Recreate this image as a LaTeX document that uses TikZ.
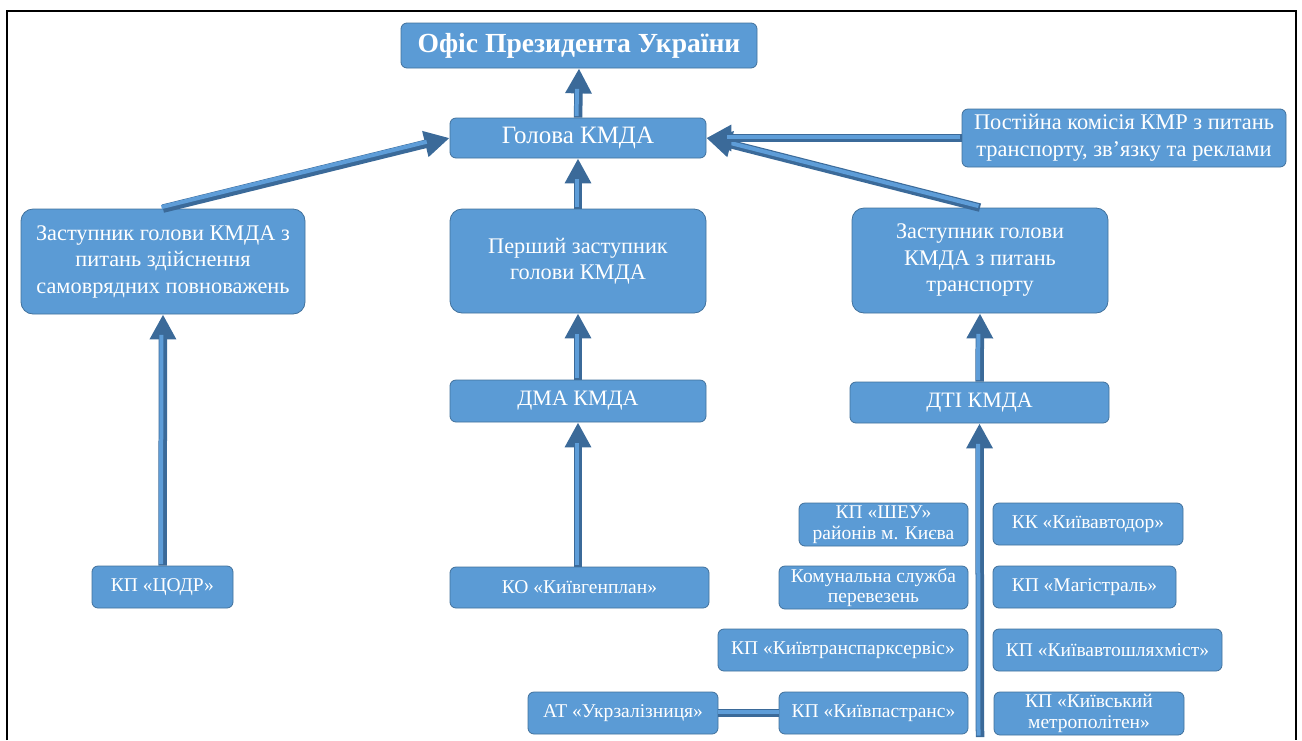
\documentclass[tikz,border=0pt]{standalone}
\usepackage{fontspec}
\setmainfont{Liberation Serif}
\usetikzlibrary{arrows.meta}
\definecolor{boxfill}{HTML}{5B9BD5}
\definecolor{boxline}{HTML}{41719C}
\definecolor{arrdark}{HTML}{3B6A99}
\definecolor{arrlight}{HTML}{5E9DD8}
\tikzset{
  box/.style={draw=boxline, line width=0.8pt, fill=boxfill, rounded corners=6pt,
    text=white, align=center, inner sep=0pt, font=\fontsize{22.3}{26.5}\selectfont},
  bigbox/.style={box, rounded corners=12pt},
  smallbox/.style={box, font=\fontsize{19.5}{20.5}\selectfont},
  arr/.style={draw=arrdark, line width=8.5pt,
    -{Triangle[width=25pt,length=25pt,fill=arrdark]},
    postaction={draw=arrlight, line width=4pt, shorten >=22pt, -,
      transform canvas={xshift=-1.5pt, yshift=1.5pt}}},
  conn/.style={draw=arrdark, line width=8pt,
    postaction={draw=arrlight, line width=4pt, transform canvas={yshift=1.5pt}}},
  frameline/.style={draw=black, line width=2.5pt}
}
\begin{document}
\begin{tikzpicture}[x=1pt,y=-1pt]
\useasboundingbox (0,0) rectangle (1302,740);
\draw[frameline] (7,740) -- (7,11) -- (1296,11) -- (1296,740);

\node[box, rounded corners=6pt, minimum width=356pt, minimum height=45pt,
  font=\fontsize{27.6}{32}\selectfont\bfseries] (ofis) at (579,45.5) {Офіс Президента України};
\node[box, minimum width=256pt, minimum height=40pt, font=\fontsize{25}{29}\selectfont] (golova) at (578,138) {Голова КМДА};
\node[box, minimum width=324pt, minimum height=58pt, font=\fontsize{22.4}{27}\selectfont] (komisia) at (1124,138) {Постійна комісія КМР з питань\\транспорту, зв’язку та реклами};

\node[bigbox, minimum width=284pt, minimum height=105pt] (zlg) at (163,261.5) {Заступник голови КМДА з\\питань здійснення\\самоврядних повноважень};
\node[bigbox, minimum width=256pt, minimum height=104pt] (pershyi) at (578,261) {Перший заступник\\голови КМДА};
\node[bigbox, minimum width=256pt, minimum height=105pt] (ztr) at (980,260.5) {Заступник голови\\КМДА з питань\\транспорту};

\node[box, minimum width=256pt, minimum height=42pt, font=\fontsize{22}{26}\selectfont] (dma) at (578,401) {ДМА КМДА};
\node[box, minimum width=259pt, minimum height=41pt, font=\fontsize{22}{26}\selectfont] (dti) at (979.5,402.5) {ДТІ КМДА};

\node[smallbox, minimum width=259pt, minimum height=41pt] (genplan) at (579.5,587.5) {КО «Київгенплан»};
\node[smallbox, minimum width=141pt, minimum height=42pt] (codr) at (162.5,587) {КП «ЦОДР»};

\node[smallbox, minimum width=169pt, minimum height=43pt] (sheu) at (883.5,524.5) {КП «ШЕУ»\\районів м. Києва};
\node[smallbox, minimum width=190pt, minimum height=42pt] (avtodor) at (1088,524) {КК «Київавтодор»};
\node[smallbox, minimum width=189pt, minimum height=43pt] (kss) at (873.5,587.5) {Комунальна служба\\перевезень};
\node[smallbox, minimum width=183pt, minimum height=42pt] (magistral) at (1084.5,587) {КП «Магістраль»};
\node[smallbox, minimum width=250pt, minimum height=42pt] (parkservis) at (843,650) {КП «Київтранспарксервіс»};
\node[smallbox, minimum width=229pt, minimum height=42pt] (avtoshl) at (1107.5,650) {КП «Київавтошляхміст»};
\node[smallbox, minimum width=189pt, minimum height=42pt] (pastrans) at (873.5,713) {КП «Київпастранс»};
\node[smallbox, minimum width=190pt, minimum height=43pt] (metro) at (1089,713.5) {КП «Київський\\метрополітен»};
\node[smallbox, minimum width=190pt, minimum height=42pt] (uz) at (623,713) {АТ «Укрзалізниця»};

\coordinate (bot) at (980,737);

\draw[arr] (golova.north) -- (ofis.south);
\draw[arr] (zlg.north) -- (golova.west);
\draw[arr] (pershyi.north) -- (golova.south);
\draw[arr] (ztr.north) -- (golova.east);
\draw[arr] (komisia.west) -- (golova.east);
\draw[arr] (dma.north) -- (pershyi.south);
\draw[arr] (genplan.north -| dma.south) -- (dma.south);
\draw[arr] (codr.north) -- (zlg.south);
\draw[arr] (dti.north) -- (ztr.south);
\draw[arr] (bot) -- (dti.south);
\draw[conn] (uz.east) -- (pastrans.west);
\end{tikzpicture}
\end{document}
